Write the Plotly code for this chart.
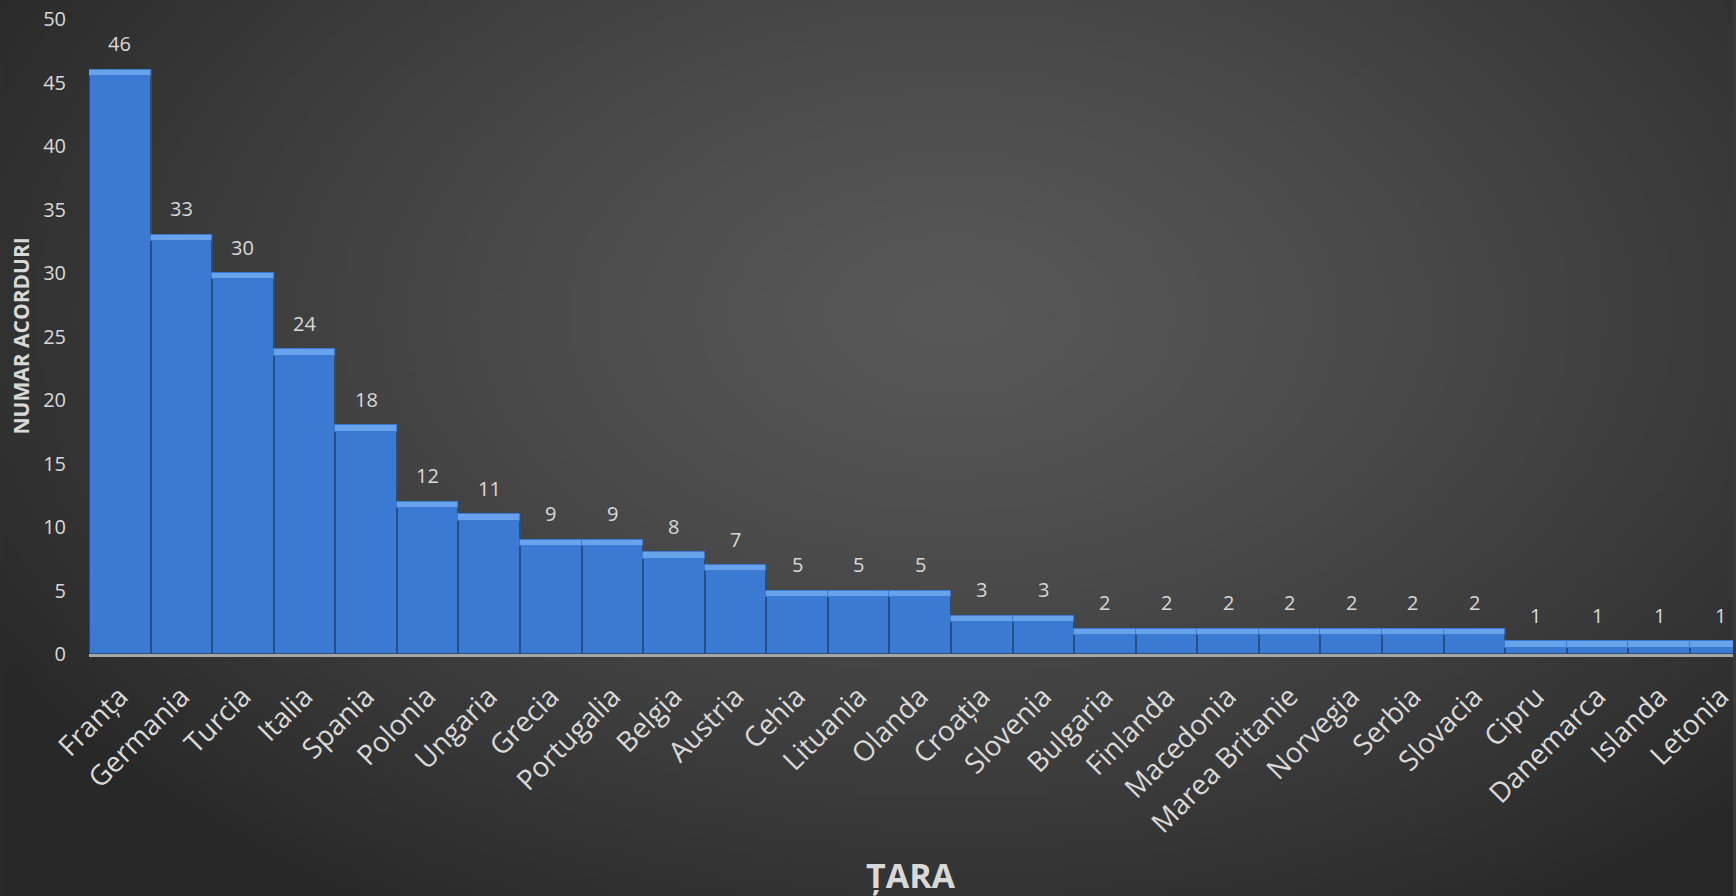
import base64
import struct
import zlib

import numpy as np
import plotly.graph_objects as go

# data
tari = ['Franța', 'Germania', 'Turcia', 'Italia', 'Spania', 'Polonia', 'Ungaria',
        'Grecia', 'Portugalia', 'Belgia', 'Austria', 'Cehia', 'Lituania', 'Olanda',
        'Croația', 'Slovenia', 'Bulgaria', 'Finlanda', 'Macedonia', 'Marea Britanie',
        'Norvegia', 'Serbia', 'Slovacia', 'Cipru', 'Danemarca', 'Islanda', 'Letonia']
acorduri = [46, 33, 30, 24, 18, 12, 11, 9, 9, 8, 7, 5, 5, 5, 3, 3, 2, 2, 2, 2, 2, 2, 2,
            1, 1, 1, 1]
y_ticks = [0, 5, 10, 15, 20, 25, 30, 35, 40, 45, 50]

W, H = 1736, 896
ML, MR, MT, MB = 89, 0, 19, 242
TXT = '#d9d9d9'
FONT = 'Open Sans, Noto Sans, sans-serif'


def gradient_png(w=348, h=180):
    """radial dark grey background as a png data uri"""
    xs = np.linspace(0, 1, w)
    ys = np.linspace(0, 1, h)
    gx, gy = np.meshgrid(xs, ys)
    r = np.sqrt(((gx - 0.55) / 0.65) ** 2 + ((gy - 0.35) / 0.8) ** 2)
    r = np.clip(r, 0, 1)
    v = (0x58 - (0x58 - 0x28) * r ** 1.3).astype(np.uint8)
    raw = b''.join(b'\x00' + bytes(np.repeat(row, 3)) for row in v)

    def chunk(tag, data):
        c = tag + data
        return struct.pack('>I', len(data)) + c + struct.pack('>I', zlib.crc32(c) & 0xffffffff)

    png = b'\x89PNG\r\n\x1a\n'
    png += chunk(b'IHDR', struct.pack('>IIBBBBB', w, h, 8, 2, 0, 0, 0))
    png += chunk(b'IDAT', zlib.compress(raw, 9))
    png += chunk(b'IEND', b'')
    return 'data:image/png;base64,' + base64.b64encode(png).decode()


fig = go.Figure()

fig.add_trace(go.Bar(x=tari, y=acorduri,
                     marker=dict(color='#3a7ad3', line=dict(color='#24507f', width=2)),
                     hoverinfo='x+y'))

# lighter bevel strip on top of each bar
bevel = 0.5
fig.add_trace(go.Bar(x=tari, y=[bevel] * len(acorduri),
                     base=[v - bevel for v in acorduri],
                     marker=dict(color='#68a2ea', line=dict(color='#3a7ad3', width=1)),
                     hoverinfo='skip'))

for t, v in zip(tari, acorduri):
    fig.add_annotation(x=t, y=v, text=str(v), showarrow=False, yshift=26,
                       font=dict(color=TXT, size=20, family=FONT))

fig.add_annotation(xref='paper', yref='paper', x=0.5, y=0, yshift=-196, xshift=0,
                   yanchor='top', text='<b>ȚARA</b>', showarrow=False,
                   font=dict(color=TXT, size=34, family=FONT))
fig.add_annotation(xref='paper', yref='paper', x=0, y=0.5, xshift=-69, yshift=0,
                   xanchor='center', yanchor='middle',
                   text='<b>NUMAR ACORDURI</b>', textangle=-90, showarrow=False,
                   font=dict(color=TXT, size=21, family=FONT))

fig.update_layout(
    width=W, height=H,
    margin=dict(l=ML, r=MR, t=MT, b=MB),
    barmode='overlay', bargap=0,
    showlegend=False,
    paper_bgcolor='#3a3a3a', plot_bgcolor='rgba(0,0,0,0)',
    font=dict(family=FONT, color=TXT, size=20),
    images=[dict(source=gradient_png(), xref='paper', yref='paper',
                 x=-ML / (W - ML - MR), y=1 + MT / (H - MT - MB),
                 sizex=W / (W - ML - MR), sizey=H / (H - MT - MB),
                 sizing='stretch', layer='below', xanchor='left', yanchor='top')],
    xaxis=dict(range=[-0.5, 26.2], tickangle=-45, showgrid=False, zeroline=False,
               showline=True, linecolor='#a6a6a6', linewidth=3,
               ticks='outside', ticklen=12, tickcolor='rgba(0,0,0,0)',
               tickfont=dict(size=28, color=TXT, family=FONT)),
    yaxis=dict(range=[0, 50], tickvals=y_ticks, showgrid=False, zeroline=False,
               showline=False, ticks='outside', ticklen=18, tickcolor='rgba(0,0,0,0)',
               tickfont=dict(size=20, color=TXT, family=FONT)),
)

fig.write_html('out.html', config={'displayModeBar': False},
               post_script="document.body.style.margin='0';document.body.style.overflow='hidden';")
